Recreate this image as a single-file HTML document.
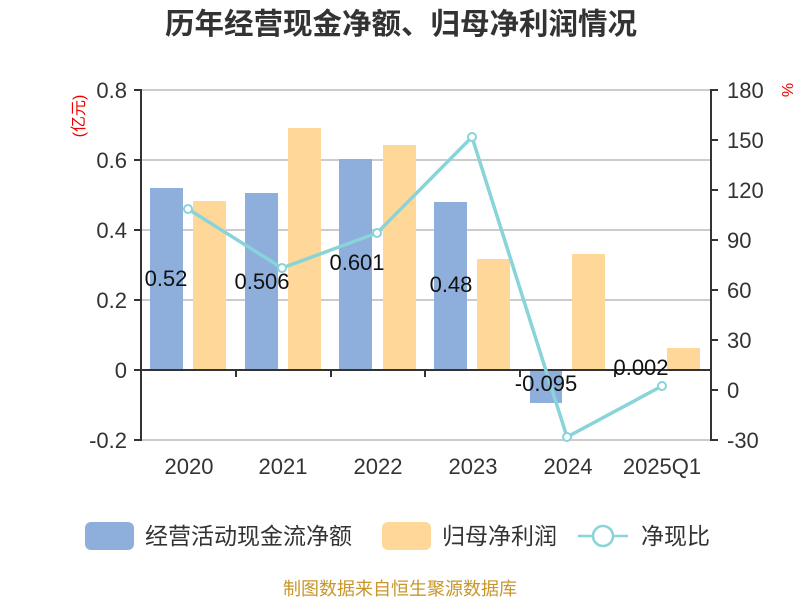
<!DOCTYPE html>
<html><head><meta charset="utf-8"><style>
body{margin:0;background:#fff;}
svg{display:block;font-family:"Liberation Sans","Noto Sans CJK SC",sans-serif;}
</style></head><body>
<svg width="800" height="600" viewBox="0 0 800 600">
<text x="401" y="34" text-anchor="middle" font-size="29.5" font-weight="bold" fill="#333">历年经营现金净额、归母净利润情况</text>
<g stroke="#ccc" stroke-width="2">
<line x1="142" y1="90" x2="710" y2="90"/>
<line x1="142" y1="160" x2="710" y2="160"/>
<line x1="142" y1="230" x2="710" y2="230"/>
<line x1="142" y1="300" x2="710" y2="300"/>
<line x1="142" y1="440" x2="710" y2="440"/>
</g>
<g fill="#8eaedb">
<rect x="150" y="188" width="33" height="182"/>
<rect x="245" y="193" width="33" height="177"/>
<rect x="339" y="159" width="33" height="211"/>
<rect x="434" y="202" width="33" height="168"/>
<rect x="530" y="370" width="32" height="33"/>
<rect x="624" y="369" width="33" height="1"/>
</g>
<g fill="#ffd899">
<rect x="193" y="201" width="33" height="169"/>
<rect x="288" y="128" width="33" height="242"/>
<rect x="383" y="145" width="33" height="225"/>
<rect x="477" y="259" width="33" height="111"/>
<rect x="572" y="254" width="33" height="116"/>
<rect x="667" y="348" width="33" height="22"/>
</g>
<g stroke="#333" stroke-width="2">
<line x1="142" y1="370" x2="710" y2="370"/>
<line x1="141" y1="89" x2="141" y2="441"/>
<line x1="711" y1="89" x2="711" y2="441"/>
<line x1="134" y1="90" x2="141" y2="90"/><line x1="134" y1="160" x2="141" y2="160"/><line x1="134" y1="230" x2="141" y2="230"/><line x1="134" y1="300" x2="141" y2="300"/><line x1="134" y1="370" x2="141" y2="370"/><line x1="134" y1="440" x2="141" y2="440"/>
<line x1="711" y1="90" x2="718" y2="90"/><line x1="711" y1="140" x2="718" y2="140"/><line x1="711" y1="190" x2="718" y2="190"/><line x1="711" y1="240" x2="718" y2="240"/><line x1="711" y1="290" x2="718" y2="290"/><line x1="711" y1="340" x2="718" y2="340"/><line x1="711" y1="390" x2="718" y2="390"/><line x1="711" y1="440" x2="718" y2="440"/>
<line x1="236" y1="370" x2="236" y2="377"/><line x1="331" y1="370" x2="331" y2="377"/><line x1="425" y1="370" x2="425" y2="377"/><line x1="520" y1="370" x2="520" y2="377"/><line x1="615" y1="370" x2="615" y2="377"/>
</g>
<g font-size="22" fill="#333" text-anchor="end">
<text x="127" y="98">0.8</text><text x="127" y="168">0.6</text><text x="127" y="238">0.4</text><text x="127" y="308">0.2</text><text x="127" y="378">0</text><text x="127" y="448">-0.2</text>
</g>
<g font-size="22" fill="#333">
<text x="727" y="98">180</text><text x="727" y="148">150</text><text x="727" y="198">120</text><text x="727" y="248">90</text><text x="727" y="298">60</text><text x="727" y="348">30</text><text x="727" y="398">0</text><text x="727" y="448">-30</text>
</g>
<g font-size="22" fill="#333" text-anchor="middle">
<text x="189" y="474">2020</text><text x="283" y="474">2021</text><text x="378" y="474">2022</text><text x="473" y="474">2023</text><text x="568" y="474">2024</text><text x="662" y="474">2025Q1</text>
</g>
<text transform="translate(84,116) rotate(-90)" font-size="16" fill="#e00" text-anchor="middle">(亿元)</text>
<text transform="translate(782,90) rotate(90)" font-size="16" fill="#e00" text-anchor="middle">%</text>
<polyline points="188,209 282,268 377,233 472,137 567,437 662,386" fill="none" stroke="#88d4d8" stroke-width="3.5"/>
<g fill="#fff" stroke="#88d4d8" stroke-width="2">
<circle cx="188" cy="209" r="4"/><circle cx="282" cy="268" r="4"/><circle cx="377" cy="233" r="4"/><circle cx="472" cy="137" r="4"/><circle cx="567" cy="437" r="4"/><circle cx="662" cy="386" r="4"/>
</g>
<g font-size="22" fill="#111" text-anchor="middle">
<text x="166" y="286">0.52</text><text x="262" y="289">0.506</text><text x="357" y="270">0.601</text><text x="451" y="292">0.48</text><text x="546" y="391">-0.095</text><text x="641" y="375">0.002</text>
</g>
<rect x="85" y="522" width="49" height="28" rx="6" fill="#8eaedb"/>
<text x="145" y="544" font-size="23" fill="#333">经营活动现金流净额</text>
<rect x="382" y="522" width="49" height="28" rx="6" fill="#ffd899"/>
<text x="442" y="544" font-size="23" fill="#333">归母净利润</text>
<line x1="578" y1="536" x2="628" y2="536" stroke="#88d4d8" stroke-width="2.5"/>
<circle cx="603" cy="536" r="10" fill="#fff" stroke="#88d4d8" stroke-width="2.5"/>
<text x="641" y="544" font-size="23" fill="#333">净现比</text>
<text x="400" y="595" font-size="18" fill="#c8962a" text-anchor="middle">制图数据来自恒生聚源数据库</text>
</svg>
</body></html>
